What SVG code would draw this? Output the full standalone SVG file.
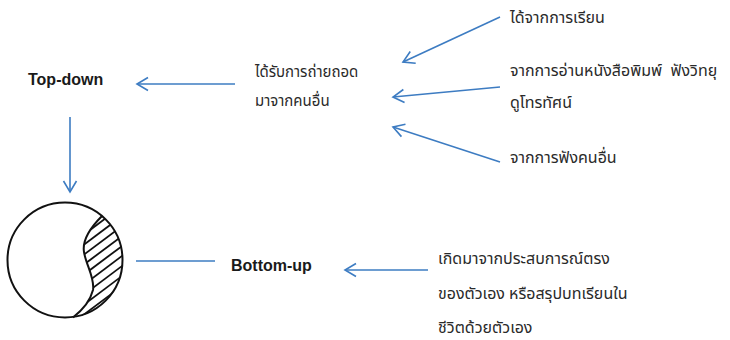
<svg xmlns="http://www.w3.org/2000/svg" width="730" height="340" viewBox="0 0 730 340">
<style>
.lbl{font-family:"Liberation Sans",Arial,sans-serif;font-size:16px;font-weight:bold;fill:#1a1a1a}
.th{font-family:"Noto Sans Thai","Noto Sans","DejaVu Sans",sans-serif;font-size:16px;fill:#2a2a2a}
.th15{font-size:15px}
.conn{stroke:#3d7cc2;stroke-width:1.6;fill:none}
</style>
<defs>
<marker id="ah" markerUnits="userSpaceOnUse" markerWidth="16" markerHeight="16" refX="12" refY="8" orient="auto">
<path d="M1,1.5 L12,8 L1,14.5" fill="none" stroke="#3d7cc2" stroke-width="1.6"/>
</marker>
<clipPath id="cres">
<path d="M102,216 C90,228 82,240 84,252 C86,265 95,278 93,290 C90,302 80,312 73,317.5 A57.5,57.5 0 0 0 102,216 Z"/>
</clipPath>
</defs>
<rect width="730" height="340" fill="#fff"/>
<g id="connectors">
<line class="conn" x1="235" y1="84" x2="137" y2="84" marker-end="url(#ah)"/>
<line class="conn" x1="70" y1="117" x2="70" y2="192" marker-end="url(#ah)"/>
<line class="conn" x1="500" y1="17" x2="403" y2="62" marker-end="url(#ah)"/>
<line class="conn" x1="500" y1="87" x2="393" y2="97" marker-end="url(#ah)"/>
<line class="conn" x1="500" y1="162" x2="393" y2="127" marker-end="url(#ah)"/>
<line class="conn" x1="428" y1="270" x2="345" y2="270" marker-end="url(#ah)"/>
<line class="conn" x1="136" y1="261" x2="215" y2="261"/>
</g>
<g id="circle">
<circle cx="65" cy="260" r="57.5" fill="#fff" stroke="#111" stroke-width="2"/>
<g clip-path="url(#cres)" stroke="#111" stroke-width="1.8">
<line x1="70" y1="215" x2="130" y2="170"/>
<line x1="70" y1="225" x2="130" y2="180"/>
<line x1="70" y1="235" x2="130" y2="190"/>
<line x1="70" y1="245" x2="130" y2="200"/>
<line x1="70" y1="255" x2="130" y2="210"/>
<line x1="70" y1="265" x2="130" y2="220"/>
<line x1="70" y1="275" x2="130" y2="230"/>
<line x1="70" y1="285" x2="130" y2="240"/>
<line x1="70" y1="295" x2="130" y2="250"/>
<line x1="70" y1="305" x2="130" y2="260"/>
<line x1="70" y1="315" x2="130" y2="270"/>
<line x1="70" y1="325" x2="130" y2="280"/>
<line x1="70" y1="335" x2="130" y2="290"/>
</g>
<path d="M102,216 C90,228 82,240 84,252 C86,265 95,278 93,290 C90,302 80,312 73,317.5" fill="none" stroke="#111" stroke-width="2"/>
</g>
<g id="top-down"><text class="lbl" x="28" y="85">Top-down</text></g>
<g id="bottom-up"><text class="lbl" x="231" y="271">Bottom-up</text></g>
<g id="received"><text class="th th15" x="255" y="77">ได้รับการถ่ายถอด</text><text class="th th15" x="255" y="106">มาจากคนอื่น</text></g>
<g id="learning"><text class="th" x="510" y="23">ได้จากการเรียน</text></g>
<g id="media"><text class="th" x="510" y="76">จากการอ่านหนังสือพิมพ์&#160; ฟังวิทยุ</text><text class="th" x="510" y="108">ดูโทรทัศน์</text></g>
<g id="listening"><text class="th" x="510" y="163">จากการฟังคนอื่น</text></g>
<g id="experience"><text class="th" x="438" y="264">เกิดมาจากประสบการณ์ตรง</text><text class="th" x="438" y="299">ของตัวเอง หรือสรุปบทเรียนใน</text><text class="th" x="438" y="333">ชีวิตด้วยตัวเอง</text></g>
</svg>
